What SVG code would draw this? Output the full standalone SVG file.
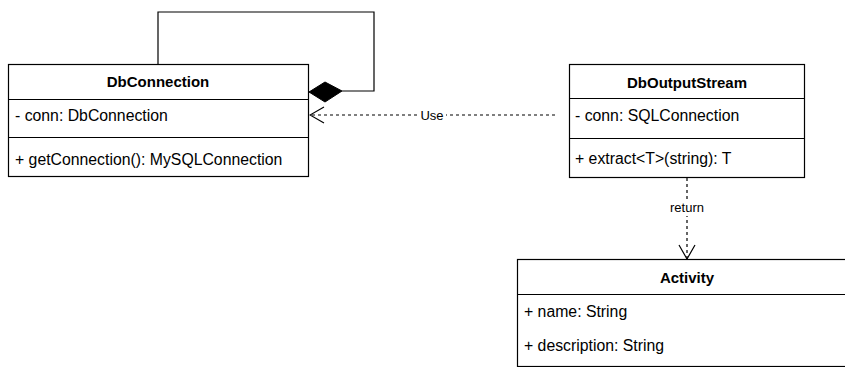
<svg xmlns="http://www.w3.org/2000/svg" width="845" height="367" viewBox="0 0 845 367">
<style>
.box{fill:#fff;stroke:#000;stroke-width:1.2}
.t{font-family:"Liberation Sans",Arial,sans-serif;font-size:15.8px;fill:#000}
.b{font-weight:bold;font-size:15px;text-anchor:middle}
.lbl{font-family:"Liberation Sans",Arial,sans-serif;font-size:13px;fill:#000;text-anchor:middle}
.ln{fill:none;stroke:#000;stroke-width:1.2}
.d{stroke-dasharray:3,3}
</style>
<defs>
<marker id="open" markerWidth="16" markerHeight="22" refX="15" refY="11" orient="auto" markerUnits="userSpaceOnUse">
<path d="M1,3 L15,11 L1,19" fill="none" stroke="#000" stroke-width="1.2"/>
</marker>
</defs>
<rect width="845" height="367" fill="#fff"/>
<g id="connectors">
<path class="ln" d="M158,64 V12 H374 V91 H342"/>
<path d="M309,92 L325,82 L342,91 L325,102 Z" fill="#000" stroke="#000"/>
<path class="ln d" d="M555,115 H310" marker-end="url(#open)"/>
<rect x="419" y="107" width="27" height="16" fill="#fff"/>
<text class="lbl" x="432" y="120">Use</text>
<path class="ln d" d="M687,178 V259" marker-end="url(#open)"/>
<rect x="667" y="200" width="40" height="16" fill="#fff"/>
<text class="lbl" x="687" y="212">return</text>
</g>
<g id="DbConnection">
<rect class="box" x="8.5" y="64.5" width="300" height="112"/>
<line class="ln" x1="8.5" y1="99.5" x2="308.5" y2="99.5"/>
<line class="ln" x1="8.5" y1="137.5" x2="308.5" y2="137.5"/>
<text class="t b" x="158" y="87">DbConnection</text>
<text class="t" x="15" y="121">- conn: DbConnection</text>
<text class="t" x="15" y="165">+ getConnection(): MySQLConnection</text>
</g>
<g id="DbOutputStream">
<rect class="box" x="569.5" y="64.5" width="235" height="113"/>
<line class="ln" x1="569.5" y1="98.5" x2="804.5" y2="98.5"/>
<line class="ln" x1="569.5" y1="138.5" x2="804.5" y2="138.5"/>
<text class="t b" x="687" y="88">DbOutputStream</text>
<text class="t" x="575" y="121">- conn: SQLConnection</text>
<text class="t" x="575" y="164">+ extract&lt;T&gt;(string): T</text>
</g>
<g id="Activity">
<rect class="box" x="517.5" y="259.5" width="340" height="107"/>
<line class="ln" x1="517.5" y1="294.5" x2="857.5" y2="294.5"/>
<text class="t b" x="687" y="283">Activity</text>
<text class="t" x="524" y="317">+ name: String</text>
<text class="t" x="524" y="351">+ description: String</text>
</g>
</svg>
